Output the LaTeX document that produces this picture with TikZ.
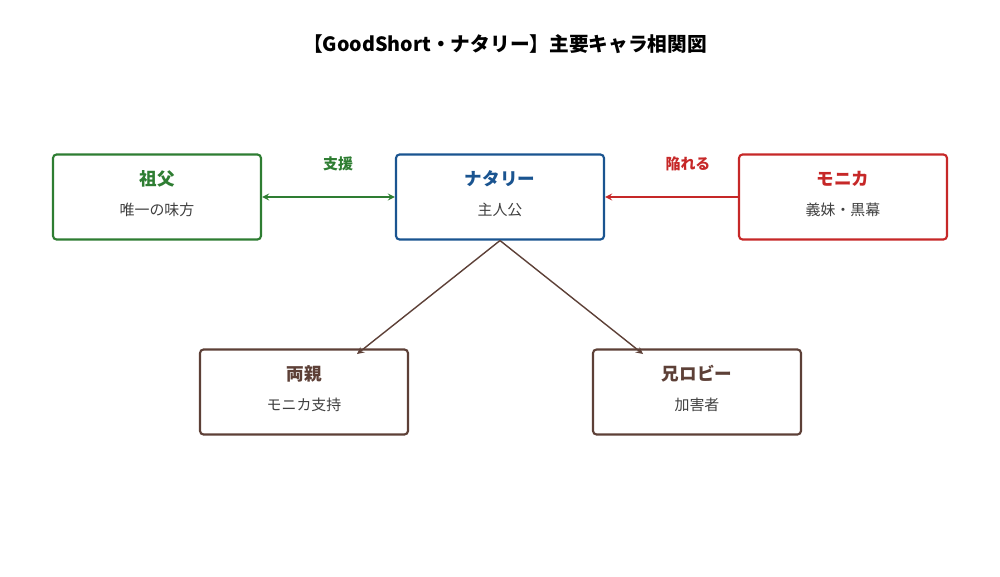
\documentclass[tikz,border=0pt]{standalone}
\usepackage{fontspec}
\setmainfont{Noto Sans CJK JP}
\usetikzlibrary{positioning}
\definecolor{cgreen}{HTML}{2E7D32}
\definecolor{cblue}{HTML}{1A5490}
\definecolor{cred}{HTML}{C62828}
\definecolor{cbrown}{HTML}{5D4037}
\tikzset{
  person/.style={draw, line width=1.2pt, rounded corners=2pt, minimum width=4.16cm, minimum height=1.7cm},
  pname/.style={font=\bfseries\fontsize{10}{12}\selectfont},
  prole/.style={font=\fontsize{8.5}{10}\selectfont, text=black!75},
  link/.style={line width=0.8pt, -stealth},
  elabel/.style={font=\bfseries\fontsize{8.5}{10}\selectfont}
}
\begin{document}
\begin{tikzpicture}[x=0.02cm, y=-0.02cm]
	\useasboundingbox (0,0) rectangle (1000,576);
	% title
	\node [font=\bfseries\fontsize{11.2}{13}\selectfont] (T) at (505,44) {【GoodShort・ナタリー】主要キャラ相関図};
	% people
	\node [person, draw=cgreen]  (GF) at (157,197) {};
	\node [person, draw=cblue]   (NT) at (500,197) {};
	\node [person, draw=cred]    (MN) at (843,197) {};
	\node [person, draw=cbrown]  (PR) at (304,392) {};
	\node [person, draw=cbrown]  (RB) at (697,392) {};
	% names and roles
	\node [pname, text=cgreen] at (157,179) {祖父};
	\node [prole] at (157,210) {唯一の味方};
	\node [pname, text=cblue] at (500,179) {ナタリー};
	\node [prole] at (500,210) {主人公};
	\node [pname, text=cred] at (843,179) {モニカ};
	\node [prole] at (843,210) {義妹・黒幕};
	\node [pname, text=cbrown] at (304,374) {両親};
	\node [prole] at (304,405) {モニカ支持};
	\node [pname, text=cbrown] at (697,374) {兄ロビー};
	\node [prole] at (697,405) {加害者};
	% relations
	\draw [link, stealth-stealth, draw=cgreen] (GF) -- (NT);
	\node [elabel, text=cgreen] at (338,164) {支援};
	\draw [link, draw=cred] (MN) -- (NT);
	\node [elabel, text=cred] at (688,164) {陥れる};
	\draw [link, draw=cbrown] (NT.south) -- (357,354);
	\draw [link, draw=cbrown] (NT.south) -- (643,354);
\end{tikzpicture}
\end{document}
